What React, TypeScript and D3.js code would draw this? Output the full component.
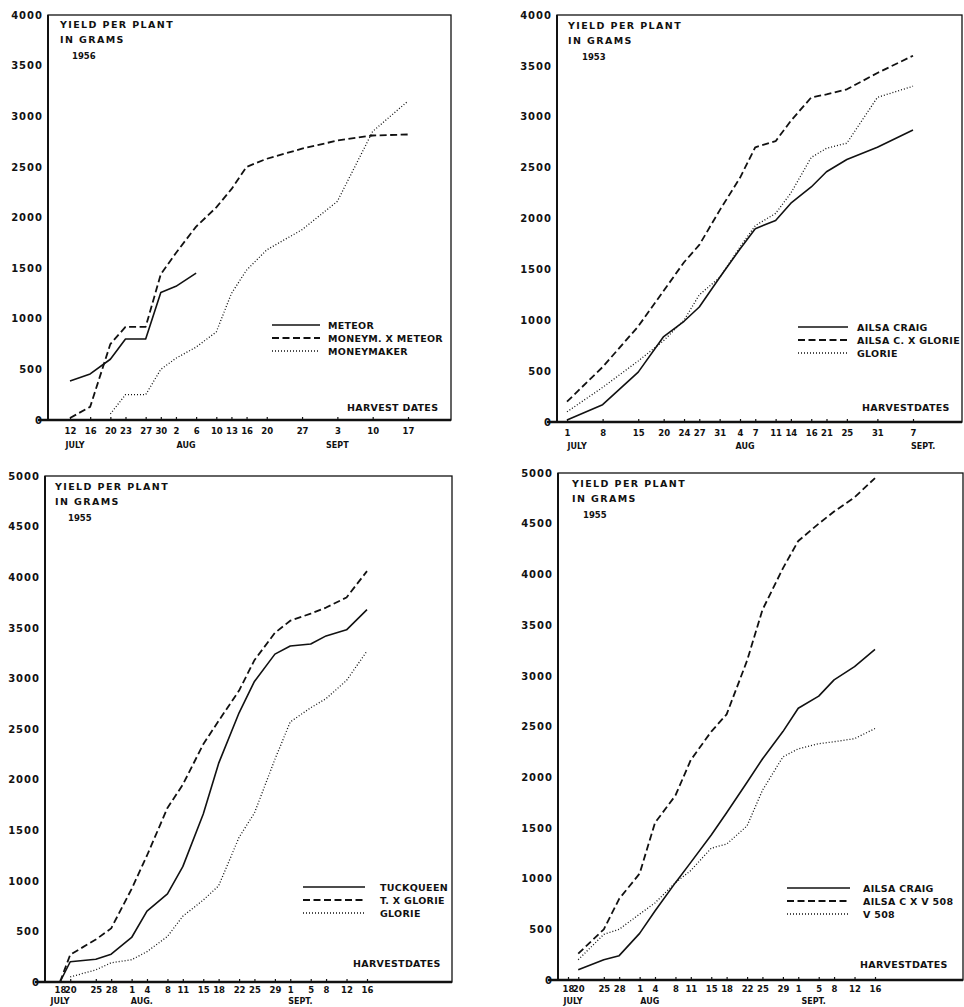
import { useEffect, useRef } from "react";
import * as d3 from "d3";

// ---- 1956: Meteor / Moneymaker ----
const p1Dates = ["1956-07-12", "1956-07-16", "1956-07-20", "1956-07-23", "1956-07-27", "1956-07-30", "1956-08-02", "1956-08-06",
  "1956-08-10", "1956-08-13", "1956-08-16", "1956-08-20", "1956-08-27", "1956-09-03", "1956-09-10", "1956-09-17"];
const p1Ticks = ["12", "16", "20", "23", "27", "30", "2", "6", "10", "13", "16", "20", "27", "3", "10", "17"];
const p1Meteor = [385, 455, 600, 800, 800, 1260, 1320, 1450, null, null, null, null, null, null, null, null];
const p1MoneymXMeteor = [20, 130, 750, 920, 920, 1440, 1650, 1910, 2100, 2280, 2500, 2580, 2680, 2760, 2810, 2820];
const p1Moneymaker = [null, null, 60, 250, 250, 500, 610, 720, 870, 1250, 1480, 1680, 1880, 2160, 2850, 3150];
const p1Months = ["JULY", "AUG", "SEPT"];
const p1MonthAt = ["1956-07-13", "1956-08-04", "1956-09-03"];

// ---- 1953: Ailsa Craig / Glorie ----
const p2Dates = ["1953-07-01", "1953-07-08", "1953-07-15", "1953-07-20", "1953-07-24", "1953-07-27", "1953-07-31", "1953-08-04",
  "1953-08-07", "1953-08-11", "1953-08-14", "1953-08-18", "1953-08-21", "1953-08-25", "1953-08-31", "1953-09-07"];
const p2Ticks = ["1", "8", "15", "20", "24", "27", "31", "4", "7", "11", "14", "16", "21", "25", "31", "7"];
const p2AilsaCraig = [20, 170, 490, 840, 990, 1130, 1420, 1700, 1900, 1980, 2150, 2310, 2460, 2580, 2700, 2870];
const p2AilsaXGlorie = [200, 540, 940, 1290, 1570, 1740, 2080, 2400, 2700, 2760, 2960, 3190, 3220, 3270, 3430, 3600];
const p2Glorie = [100, 340, 600, 800, 1000, 1250, 1420, 1720, 1930, 2050, 2250, 2600, 2690, 2740, 3190, 3300];
const p2Months = ["JULY", "AUG", "SEPT."];
const p2MonthAt = ["1953-07-03", "1953-08-05", "1953-09-09"];

// ---- 1955: Tuckqueen / Glorie ----
const p3Dates = ["1955-07-18", "1955-07-20", "1955-07-25", "1955-07-28", "1955-08-01", "1955-08-04", "1955-08-08", "1955-08-11",
  "1955-08-15", "1955-08-18", "1955-08-22", "1955-08-25", "1955-08-29", "1955-09-01", "1955-09-05", "1955-09-08",
  "1955-09-12", "1955-09-16"];
const p3Ticks = ["18", "20", "25", "28", "1", "4", "8", "11", "15", "18", "22", "25", "29", "1", "5", "8", "12", "16"];
const p3Tuckqueen = [0, 200, 225, 275, 440, 700, 870, 1140, 1660, 2160, 2660, 2970, 3240, 3320, 3340, 3420, 3480, 3680];
const p3TXGlorie = [0, 270, 420, 530, 920, 1250, 1720, 1950, 2350, 2580, 2880, 3180, 3450, 3570, 3640, 3700, 3800, 4060];
const p3Glorie = [null, 50, 120, 190, 220, 300, 450, 650, 810, 950, 1430, 1670, 2200, 2570, 2710, 2800, 2980, 3270];
const p3Months = ["JULY", "AUG.", "SEPT."];
const p3MonthAt = ["1955-07-18", "1955-08-03", "1955-09-03"];

// ---- 1955: Ailsa Craig / V 508 ----
const p4Dates = p3Dates;
const p4Ticks = p3Ticks;
const p4AilsaCraig = [null, 100, 200, 240, 460, 680, 960, 1160, 1430, 1650, 1950, 2180, 2450, 2680, 2800, 2960, 3090, 3260];
const p4AilsaXV508 = [null, 260, 500, 800, 1050, 1550, 1820, 2170, 2450, 2620, 3150, 3650, 4060, 4330, 4500, 4620, 4760, 4950];
const p4V508 = [null, 200, 450, 500, 650, 760, 960, 1080, 1300, 1340, 1520, 1870, 2200, 2280, 2330, 2350, 2380, 2480];
const p4Months = ["JULY", "AUG", "SEPT."];
const p4MonthAt = ["1955-07-19", "1955-08-03", "1955-09-04"];

const parse = d3.timeParse("%Y-%m-%d");
const FONT = "'DejaVu Sans', sans-serif";

const dash = { solid: null, dashed: "7,3.5", dotted: "1,2" };
const widths = { solid: 1.6, dashed: 1.8, dotted: 1.3 };

const panels = [
  {
    year: "1956", dates: p1Dates, ticks: p1Ticks, months: p1Months, monthAt: p1MonthAt, yMax: 4000,
    series: [
      { name: "METEOR", values: p1Meteor, style: "solid" },
      { name: "MONEYM. X METEOR", values: p1MoneymXMeteor, style: "dashed" },
      { name: "MONEYMAKER", values: p1Moneymaker, style: "dotted" },
    ],
    frame: [48, 451, 15, 420], xr: [70, 408], tickPad: 8, monthY: 448,
    title: [60, 28], yearX: 72, legend: [272, 320, 325, 328], harvest: [347, 411], harvestText: "HARVEST DATES",
  },
  {
    year: "1953", dates: p2Dates, ticks: p2Ticks, months: p2Months, monthAt: p2MonthAt, yMax: 4000,
    series: [
      { name: "AILSA CRAIG", values: p2AilsaCraig, style: "solid" },
      { name: "AILSA C. X GLORIE", values: p2AilsaXGlorie, style: "dashed" },
      { name: "GLORIE", values: p2Glorie, style: "dotted" },
    ],
    frame: [557, 962, 15, 422], xr: [567, 913], tickPad: 8, monthY: 449,
    title: [568, 29], yearX: 582, legend: [798, 848, 327, 857], harvest: [862, 411], harvestText: "HARVESTDATES",
  },
  {
    year: "1955", dates: p3Dates, ticks: p3Ticks, months: p3Months, monthAt: p3MonthAt, yMax: 5000,
    series: [
      { name: "TUCKQUEEN", values: p3Tuckqueen, style: "solid" },
      { name: "T. X GLORIE", values: p3TXGlorie, style: "dashed" },
      { name: "GLORIE", values: p3Glorie, style: "dotted" },
    ],
    frame: [45, 452, 476, 982], xr: [60, 367], tickPad: 5, monthY: 1004,
    title: [55, 490], yearX: 68, legend: [303, 365, 887, 380], harvest: [353, 967], harvestText: "HARVESTDATES",
  },
  {
    year: "1955", dates: p4Dates, ticks: p4Ticks, months: p4Months, monthAt: p4MonthAt, yMax: 5000,
    series: [
      { name: "AILSA CRAIG", values: p4AilsaCraig, style: "solid" },
      { name: "AILSA C X V 508", values: p4AilsaXV508, style: "dashed" },
      { name: "V 508", values: p4V508, style: "dotted" },
    ],
    frame: [558, 963, 473, 980], xr: [568, 875], tickPad: 6, monthY: 1004,
    title: [572, 487], yearX: 583, legend: [787, 850, 888, 863], harvest: [860, 968], harvestText: "HARVESTDATES",
  },
];

const App = () => {
  const svgRef = useRef(null);

  useEffect(() => {
    const svg = d3.select(svgRef.current);
    svg.selectAll("*").remove();

    panels.forEach((p) => {
      const [fx0, fx1, fy0, fy1] = p.frame;
      const dates = p.dates.map((d) => parse(d));
      const x = d3.scaleTime().domain(d3.extent(dates)).range(p.xr);
      const y = d3.scaleLinear().domain([0, p.yMax]).range([fy1, fy0]);
      const g = svg.append("g").attr("font-family", FONT).attr("font-weight", "bold").attr("fill", "#111");

      // frame
      g.append("rect")
        .attr("x", fx0).attr("y", fy0).attr("width", fx1 - fx0).attr("height", fy1 - fy0)
        .attr("fill", "none").attr("stroke", "#111").attr("stroke-width", 1.3);
      g.append("line").attr("x1", fx0).attr("x2", fx0).attr("y1", fy0).attr("y2", fy1 + 1)
        .attr("stroke", "#111").attr("stroke-width", 2);
      g.append("line").attr("x1", fx0 - 10).attr("x2", fx1).attr("y1", fy1).attr("y2", fy1)
        .attr("stroke", "#111").attr("stroke-width", 2.4);

      // y axis
      g.append("g")
        .attr("transform", `translate(${fx0},0)`)
        .call(d3.axisLeft(y).tickValues(d3.range(0, p.yMax + 1, 500)).tickSize(0).tickPadding(5).tickFormat(d3.format("d")))
        .call((a) => a.select(".domain").remove())
        .call((a) => a.selectAll("text")
          .attr("font-family", FONT).attr("font-weight", "bold").attr("font-size", 10)
          .attr("letter-spacing", 1).attr("fill", "#111"));

      // x axis (harvest dates)
      g.append("g")
        .attr("transform", `translate(0,${fy1})`)
        .call(d3.axisBottom(x).tickValues(dates).tickSize(-3).tickPadding(p.tickPad).tickFormat((_, i) => p.ticks[i]))
        .call((a) => a.select(".domain").remove())
        .call((a) => a.selectAll("line").attr("stroke", "#111").attr("stroke-width", 1.2))
        .call((a) => a.selectAll("text")
          .attr("font-family", FONT).attr("font-weight", "bold").attr("font-size", 8.5)
          .attr("fill", "#111"));

      // month names
      p.months.forEach((m, i) => {
        g.append("text")
          .attr("x", x(parse(p.monthAt[i])))
          .attr("y", p.monthY)
          .attr("text-anchor", "middle")
          .attr("font-size", 8)
          .text(m);
      });

      // title
      const [tx, ty] = p.title;
      g.append("text").attr("x", tx).attr("y", ty).attr("font-size", 9.5).attr("letter-spacing", 1.4).text("YIELD  PER  PLANT");
      g.append("text").attr("x", tx).attr("y", ty + 15).attr("font-size", 9.5).attr("letter-spacing", 1.4).text("IN GRAMS");
      g.append("text").attr("x", p.yearX).attr("y", ty + 31).attr("font-size", 8.5).text(p.year);

      // series
      p.series.forEach((s) => {
        const line = d3.line()
          .defined((v) => v != null)
          .x((_, i) => x(dates[i]))
          .y((v) => y(v));
        g.append("path")
          .attr("d", line(s.values))
          .attr("fill", "none")
          .attr("stroke", "#111")
          .attr("stroke-width", widths[s.style])
          .attr("stroke-dasharray", dash[s.style])
          .attr("stroke-linejoin", "round");
      });

      // legend
      const [lx0, lx1, ly, ltx] = p.legend;
      p.series.forEach((s, i) => {
        g.append("line")
          .attr("x1", lx0).attr("x2", lx1).attr("y1", ly + i * 13).attr("y2", ly + i * 13)
          .attr("stroke", "#111")
          .attr("stroke-width", widths[s.style])
          .attr("stroke-dasharray", dash[s.style]);
        g.append("text")
          .attr("x", ltx).attr("y", ly + i * 13 + 4)
          .attr("font-size", 9.5).attr("letter-spacing", 0.3)
          .text(s.name);
      });

      g.append("text")
        .attr("x", p.harvest[0]).attr("y", p.harvest[1])
        .attr("font-size", 9.5).attr("letter-spacing", 0.3)
        .text(p.harvestText);
    });
  }, []);

  return (
    <svg ref={svgRef} width={964} height={1007}
      style={{ position: "absolute", left: 0, top: 0, background: "#fff" }} />
  );
};

export default App;
